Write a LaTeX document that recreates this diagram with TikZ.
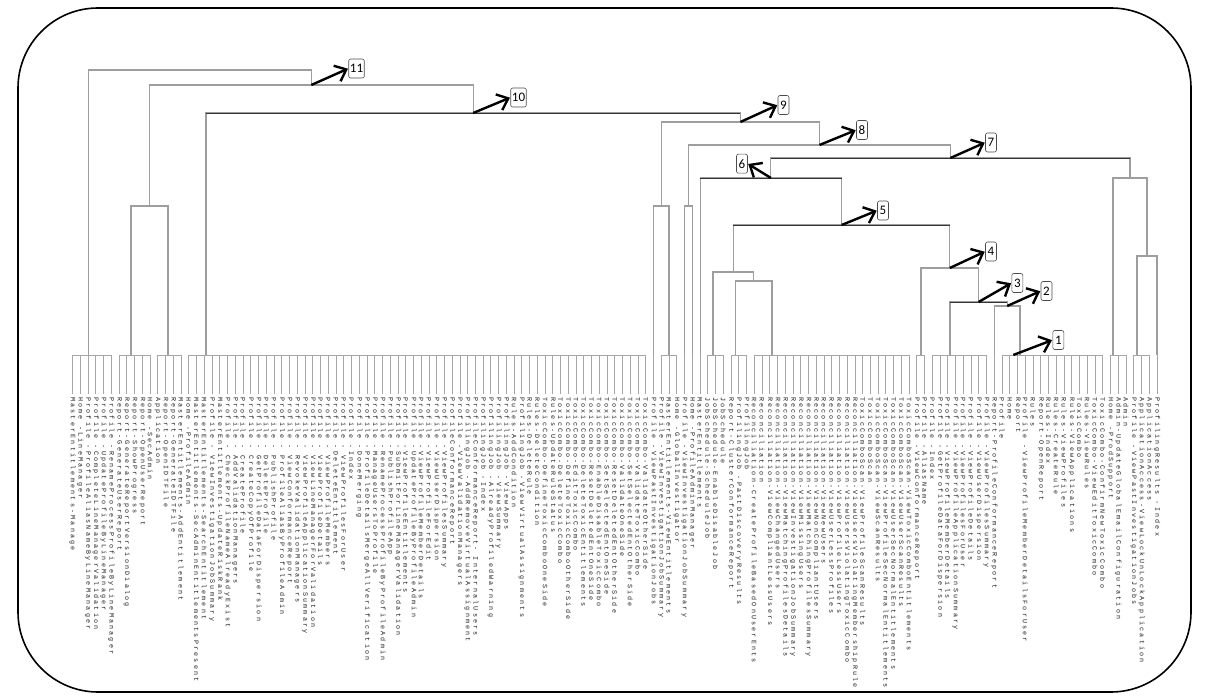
\documentclass[tikz,border=0pt]{standalone}
\usepackage{fontspec}
\setmainfont{Carlito}
\newfontfamily\lblfont[LetterSpace=33]{Liberation Mono}
\usetikzlibrary{arrows.meta}
\begin{document}
\begin{tikzpicture}[x=1pt,y=-1pt,
  tree/.style={draw=black!38, line width=1.1pt},
  dtree/.style={draw=black!80, line width=0.7pt},
  stem/.style={draw=black!35, line width=0.9pt},
  leaflbl/.style={font=\lblfont\fontsize{6.7}{7}\selectfont, text=black!88, rotate=-90, anchor=west, inner sep=0pt},
  numbox/.style={draw=black!70, line width=0.6pt, rounded corners=2pt, fill=white, font=\fontsize{13}{14}\selectfont, inner sep=1.2pt, minimum height=19pt, minimum width=11pt},
  bigarrow/.style={line width=2.4pt, -{Straight Barb[length=10pt,width=17pt]}, shorten >=0.5pt}
]
\useasboundingbox (0,0) rectangle (1208,700);
\draw[line width=1.6pt, rounded corners=80pt] (18,8) rectangle (1191,692);

% leaves
\foreach \t [count=\i from 0] in {
MasterEntitlements-Manage,
Home -LineManager,
Profile -ProfileAliasNameByLineManager,
Profile -CompleteLineManagerValidation,
Profile -UpdateProfileByLineManager,
Profile -RenameProcessProfileByLineManager,
Report-GenerateUserReport,
Report-GenerateReportVersionDialog,
Report-ShowProgress,
Report-OpenUserReport,
Home -SecAdmin,
Application,
Report-OpenIDTFile,
Report-GenerateIDTFile,
MasterEntitlements-AddEntitlement,
Home -ProfileAdmin,
MasterEntitlements-SecAdminEntitlementsPresent,
MasterEntitlements-SearchEntitlement,
Profile - ViewInvestigationJobSummary,
MasterEntitlements-UpdateRiskRank,
Profile - CheckProfileNameAlreadyExist,
Profile - AddValidationManagers,
Profile - CreateProfile,
Profile - CreateCopyOfProfile,
Profile - GetProfileDataForDispersion,
Profile - DeleteProfile,
Profile - PublishProfile,
Profile - ProfileAliasByProfileAdmin,
Profile - ViewConformanceReport,
Profile - RevokeValidationManagers,
Profile - ViewProfileApplicationSummary,
Profile - ViewLineManagerForValidation,
Profile - ViewProfileDetails,
Profile - ViewProfileMembers,
Profile -DeleteEntitlement,
Profile - ViewProfilesForUser,
Profile -Index,
Profile -DoneMerging,
Profile -ProfileDetailsMergeAllVerification,
Profile -ManageUsersToProfile,
Profile -RenameProcessProfileByProfileAdmin,
Profile -PublishProfileApp,
Profile -SubmitForLineManagerValidation,
Profile -ViewProfileEntitlements,
Profile -UpdateProfileByProfileAdmin,
Profile -ViewProfileMemberDetails,
Profile -ViewProfileForEdit,
Profile -ViewUserDispersion,
Profile -ViewProfilesSummary,
ProfileConformanceReport,
Profile -ViewValidationManagers,
ProfilingJob -AddRemoveVirtualAssignment,
ProfileConformanceReport- InternalUsers,
ProfilingJob -Index,
ProfilingJob -AlreadyProfiledWarning,
ProfilingJob -ViewSummary,
ProfilingJob -ViewApps,
Rules-AddCondition,
ProfilingJob -ViewVirtualAssignments,
Rules-DeleteRule,
Rules-DeleteCondition,
ToxicCombo-DefineToxicComboOneSide,
Rules-UpdateRuleStatus,
ToxicCombo-DeleteToxicCombo,
ToxicCombo-DefineToxicComboOtherSide,
ToxicCombo-EditToxicCombo,
ToxicCombo-DeleteToxicEntitlements,
ToxicCombo-ResetDeletedEntOneSide,
ToxicCombo-EnableDisableToxicCombo,
ToxicCombo-SetSelectedEntOneSide,
ToxicCombo-ResetDeletedEntOtherSide,
ToxicCombo-ValidateOneSide,
ToxicCombo-SetSelectedEntOtherSide,
ToxicCombo-ValidateToxicCombo,
ToxicCombo-ValidateOtherSide,
Profile -ViewPastInvestigationJobs,
Profile -ViewInvestigationJobSummary,
MasterEntitlements-ViewEntitlements,
Home -GlobalInvestigator,
Profile -ViewInvestigationJobSummary,
Home -ProfileAdminManager,
MasterEntitlements,
JobSchedule-ScheduleJob,
JobSchedule-EnableDisableJob,
JobSchedule,
Report-ClusterConformanceReport,
ProfilingJob -PastDiscoveryResults,
ProfilingJob,
Reconciliation-CreateProfileBasedOnUserEnts,
Reconciliation,
Reconciliation-ViewCompliantLessUsers,
Reconciliation-ViewChangedUsers,
Reconciliation-ViewMatchingProfilesDetails,
Reconciliation-ViewInvestigationJobSummary,
Reconciliation-ViewMissingUsers,
Reconciliation-ViewMatchingProfilesSummary,
Reconciliation-ViewNonCompliantUsers,
Reconciliation-ViewNewUsers,
Reconciliation-ViewUserLessProfiles,
Reconciliation-ViewProfileLessUsers,
Reconciliation-ViewUsersViolatingToxicCombo,
Reconciliation-ViewUsersViolatingMembershipRule,
ToxicComboScan-ViewProfileScanResults,
ToxicComboScan,
ToxicComboScan-ViewScanResults,
ToxicComboScan-ViewProfileSecNormalEntitlements,
ToxicComboScan-ViewUserSecNormalEntitlements,
ToxicComboScan-ViewUserScanResults,
ToxicComboScan-ViewToxicComboEntitlements,
Profile -ViewConformanceReport,
Profile -AliasName,
Profile -Index,
Profile -GetProfileDataForDispersion,
Profile -ViewProfileMemberDetails,
Profile -ViewProfileApplicationSummary,
Profile -ViewProfilesForUser,
Profile -ViewProfileDetails,
Profile -ViewUserDispersion,
Profile -ViewProfilesSummary,
Report-ProfileConformanceReport,
Profile,
Home,
Report,
Profile -ViewProfileMemberDetailsForUser,
Rules,
Report-OpenReport,
Rules-Index,
Rules-CreateRule,
Rules-ViewProfiles,
Rules-ViewApplications,
ToxicCombo,
Rules-ViewRules,
ToxicCombo-ViewEditToxicCombo,
ToxicCombo-ConfirmNewToxicCombo,
Home -ProdSupport,
Admin-UpdateGlobalEmailConfiguration,
Admin,
Profile -ViewPastInvestigationJobs,
ApplicationAccess-ViewLockUnLockApplication,
ApplicationAccess,
ProfilingResults -Index}{
  \pgfmathsetmacro\xx{72.7+7.745*\i}
  \coordinate (t\i) at (\xx,355);
  \node[leaflbl] (l\i) at (\xx,397) {\t};
  \draw[stem, shorten >=3pt] (t\i) -- (l\i.west);
}

% base bars of groups
\foreach \a/\b in {0/5,6/10,11/14,15/74,76/78,82/84,85/87,88/108,109/110,111/118,120/133,134/136,137/139}{
  \draw[stem] (t\a) -- (t\b);
}

% group tops
\coordinate (g1) at (88.7,355);
\coordinate (g2) at (131,355);
\coordinate (g3) at (168,355);
\coordinate (g4) at (206,355);
\coordinate (g5) at (669,355);
\coordinate (g6) at (713,355);
\coordinate (g7) at (735.5,355);
\coordinate (g8) at (772,355);
\coordinate (g9) at (921,355);
\coordinate (g10) at (950,355);
\coordinate (g11) at (1020,355);
\coordinate (g11a) at (1013.3,355);
\coordinate (g12) at (1113,355);
\coordinate (g13) at (1137,355);

% cluster points
\coordinate (cb) at (149.5,206);
\coordinate (cc) at (661.3,206);
\coordinate (cd) at (688.4,206);
\coordinate (cf) at (753.8,281);
\coordinate (ce) at (733.4,272);
\coordinate (c2) at (1007.2,306);
\coordinate (c3) at (978.6,302);
\coordinate (c4) at (949.8,268);
\coordinate (c5) at (841.6,225);
\coordinate (c6) at (770.9,178);
\coordinate (cr2) at (1147,256);
\coordinate (cr1) at (1130,178);
\coordinate (c7) at (950.4,158);
\coordinate (c8) at (819.5,145);
\coordinate (c9) at (740.4,122);
\coordinate (cA) at (473.2,113);
\coordinate (c10) at (311.3,85);
\coordinate (c11) at (200,70);

% tree
\draw[tree] (g1) |- (c11) -| (c10);
\draw[tree] (cb) |- (c10) -| (cA);
\draw[tree] (g2) |- (cb) -| (g3);
\draw[tree] (g4) |- (cA) -| (c9);
\draw[tree] (cc) |- (c9) -| (c8);
\draw[tree] (t75) |- (cc) -| (g5);
\draw[tree] (cd) |- (c8) -| (c7);
\draw[tree] (t79) |- (cd) -| (t80);
\draw[tree] (c6) |- (c7) -| (cr1);
\draw[tree] (t81) |- (c6) -| (c5);
\draw[tree] (ce) |- (c5) -| (c4);
\draw[tree] (g6) |- (ce) -| (cf);
\draw[tree] (g7) |- (cf) -| (g8);
\draw[tree] (g9) |- (c4) -| (c3);
\draw[tree] (g10) |- (c3) -| (c2);
\draw[tree] (t119) |- (c2) -| (g11);
\draw[tree] (g12) |- (cr1) -| (cr2);
\draw[tree] (g13) |- (cr2) -| (t140);

% darker bars
\draw[dtree] (cA -| g4) -- (cA -| c9);
\draw[dtree] (c7 -| c6) -- (c7 -| cr1);
\draw[dtree] (c6 -| t81) -- (c6 -| c5);
\draw[dtree] (c5 -| ce) -- (c5 -| c4);
\draw[dtree] (c3 -| g10) -- (c3 -| c2);

% number labels
\node[numbox] (n11) at (356.5,68.5) {11};
\node[numbox] (n10) at (518.5,97.5) {10};
\node[numbox] (n9) at (783.5,105) {9};
\node[numbox] (n8) at (862,130) {8};
\node[numbox] (n7) at (991,142.5) {7};
\node[numbox] (n6) at (742,163.7) {6};
\node[numbox] (n5) at (883,210.5) {5};
\node[numbox] (n4) at (991,251.5) {4};
\node[numbox] (n3) at (1017.3,283) {3};
\node[numbox] (n2) at (1046.5,291) {2};
\node[numbox] (n1) at (1058.3,340) {1};

% arrows
\draw[bigarrow] (c10) -- (n11.west);
\draw[bigarrow] (cA) -- (n10.west);
\draw[bigarrow] (c9) -- (n9.west);
\draw[bigarrow] (c8) -- (n8.west);
\draw[bigarrow] (c7) -- (n7.west);
\draw[bigarrow] (c6) -- (n6.east);
\draw[bigarrow] (c5) -- (n5.west);
\draw[bigarrow] (c4) -- (n4.west);
\draw[bigarrow] (c3) -- (n3.west);
\draw[bigarrow] (c2) -- (n2.west);
\draw[bigarrow] (g11a) -- (n1.west);
\end{tikzpicture}
\end{document}
